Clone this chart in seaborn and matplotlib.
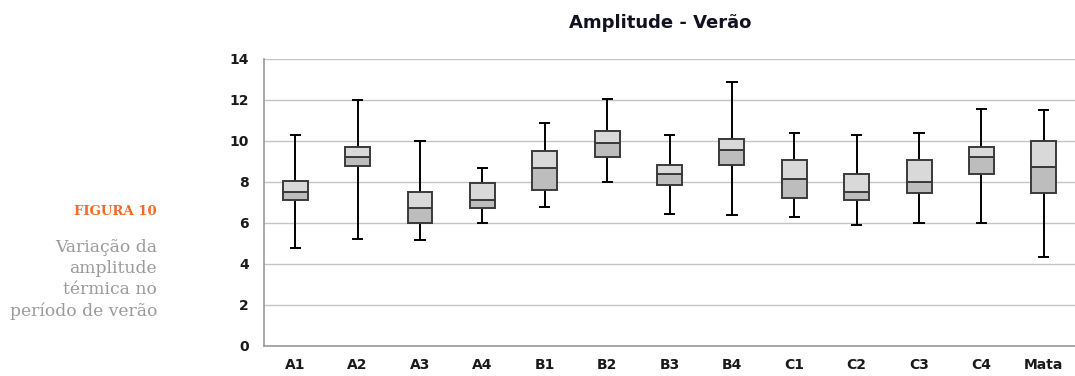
import numpy as np
import pandas as pd
import matplotlib
matplotlib.use("Agg")
import matplotlib.pyplot as plt
import seaborn as sns

# values
sites = ["A1", "A2", "A3", "A4", "B1", "B2", "B3", "B4", "C1", "C2", "C3", "C4", "Mata"]
mins = [4.77, 5.23, 5.17, 6.0, 6.8, 8.0, 6.44, 6.37, 6.31, 5.92, 6.0, 6.0, 4.36]
q1 = [7.12, 8.8, 6.0, 6.72, 7.6, 9.2, 7.87, 8.81, 7.2, 7.12, 7.45, 8.41, 7.45]
medians = [7.53, 9.2, 6.75, 7.12, 8.67, 9.89, 8.39, 9.56, 8.15, 7.53, 8.0, 9.24, 8.75]
q3 = [8.06, 9.69, 7.53, 7.93, 9.51, 10.5, 8.81, 10.1, 9.07, 8.39, 9.07, 9.69, 10.0]
maxs = [10.29, 12.0, 10.0, 8.67, 10.86, 12.05, 10.29, 12.86, 10.37, 10.29, 10.37, 11.58, 11.51]

df = pd.DataFrame({"site": sites, "min": mins, "q1": q1, "med": medians, "q3": q3, "max": maxs})
df["lower"] = df["med"] - df["q1"]
df["upper"] = df["q3"] - df["med"]

sns.set_style("white")

fig = plt.figure(figsize=(10.75, 3.76), dpi=100)
ax = fig.add_axes([0.2456, 0.0798, 0.7544, 0.7633])

edge = "#3a3a3a"
# whiskers first so the boxes sit on top
x = np.arange(len(df))
ax.vlines(x, df["min"], df["max"], color="black", lw=1.4, zorder=2)
ax.hlines(df["min"], x - 0.09, x + 0.09, color="black", lw=1.4, zorder=2)
ax.hlines(df["max"], x - 0.09, x + 0.09, color="black", lw=1.4, zorder=2)

# box halves: q1->median darker, median->q3 lighter
sns.barplot(data=df, x="site", y="lower", order=sites, bottom=df["q1"].values,
            color="#bdbdbd", width=0.4, edgecolor=edge, linewidth=1.4,
            errorbar=None, saturation=1, ax=ax, zorder=3)
sns.barplot(data=df, x="site", y="upper", order=sites, bottom=df["med"].values,
            color="#d9d9d9", width=0.4, edgecolor=edge, linewidth=1.4,
            errorbar=None, saturation=1, ax=ax, zorder=3)

ax.set_xlim(-0.5, len(sites) - 0.5)
ax.set_ylim(0, 14)
ax.set_yticks(range(0, 15, 2))
ax.yaxis.grid(True, color="#c4c4c4", lw=1)
ax.set_axisbelow(True)
ax.set_xlabel("")
ax.set_ylabel("")

for s in ["top", "right"]:
    ax.spines[s].set_visible(False)
for s in ["left", "bottom"]:
    ax.spines[s].set_color("#999999")
    ax.spines[s].set_linewidth(1.2)

ax.set_xticks(np.arange(-0.5, len(sites), 1.0), minor=True)
ax.tick_params(axis="x", which="major", length=0, pad=9)
ax.tick_params(axis="x", which="minor", length=5, color="#999999", width=1.2)
ax.tick_params(axis="y", length=5, color="#999999", width=1.2, pad=6)
for lab in ax.get_xticklabels() + ax.get_yticklabels():
    lab.set_fontweight("bold")
    lab.set_fontsize(10)
    lab.set_color("#1a1a1a")
for lab in ax.get_yticklabels():
    lab.set_horizontalalignment("right")

fig.text(0.614, 0.94, "Amplitude - Verão", ha="center", va="center",
         fontsize=13, fontweight="bold", color="#111122")

fig.text(0.146, 0.437, "FIGURA 10", ha="right", va="center",
         fontsize=9.5, fontweight="bold", color="#f26b21", family="DejaVu Serif")
fig.text(0.146, 0.365, "Variação da\namplitude\ntérmica no\nperíodo de verão",
         ha="right", va="top", fontsize=12.3, color="#9a9a9a",
         family="DejaVu Serif", linespacing=1.32)

fig.savefig("out.png", dpi=100)
